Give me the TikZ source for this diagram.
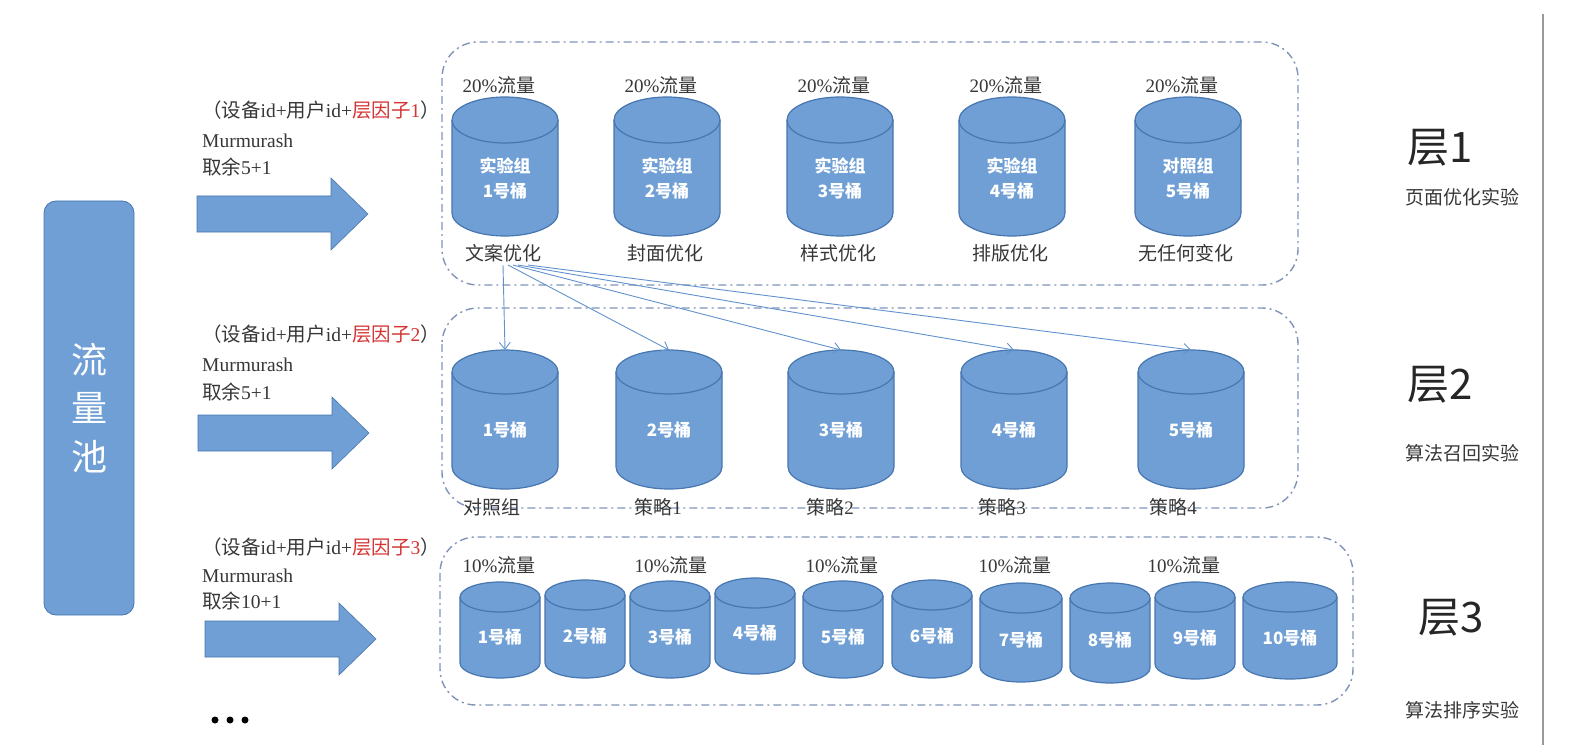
\documentclass[tikz,border=0pt]{standalone}
\usepackage{fontspec}
\setmainfont{Liberation Serif}
\newfontfamily\cjk{Noto Sans CJK SC}
\usetikzlibrary{arrows.meta}

\definecolor{tongblue}{RGB}{111,159,212}
\definecolor{tongedge}{RGB}{72,118,176}
\definecolor{boxline}{RGB}{128,148,186}
\definecolor{fanblue}{RGB}{98,146,206}
\definecolor{yinzi}{RGB}{212,52,52}
\definecolor{txt}{RGB}{55,55,55}

\tikzset{
  tongbody/.style={fill=tongblue, draw=tongedge, line width=1.2pt},
  tongtext/.style={text=white, font=\cjk\bfseries\fontsize{17}{25}\selectfont, align=center, inner sep=0pt},
  layerbox/.style={draw=boxline, line width=1.4pt, rounded corners=36pt, dash pattern=on 8pt off 4pt on 2pt off 4pt},
  liuliang/.style={text=txt, font=\fontsize{19}{22}\selectfont, inner sep=1pt},
  xiaoguo/.style={text=txt, font=\cjk\fontsize{19}{22}\selectfont, inner sep=3pt},
  zuo/.style={anchor=west, inner sep=0pt, text=txt, font=\fontsize{19.5}{22}\selectfont},
  ceng/.style={text=black!85, font=\cjk\fontsize{42}{46}\selectfont},
  shiyan/.style={text=txt, font=\cjk\fontsize{19}{21}\selectfont},
  bigarrow/.style={fill=tongblue, draw=tongedge, line width=0.6pt},
  fan/.style={draw=fanblue, line width=0.9pt, -{Straight Barb[length=7pt,width=11pt]}},
  pool/.style={fill=tongblue, draw=tongedge, line width=0.8pt, rounded corners=12pt,
    minimum width=90pt, minimum height=414pt, text=white, align=center,
    font=\cjk\fontsize{36}{48.5}\selectfont},
}

% bucket: name, cx, top, bottom, rx, ry, text
\newcommand{\tong}[7]{%
  \path[tongbody] ({#2-#5},{-#3-#6}) -- ({#2-#5},{-#4+#6})
    arc[start angle=180, end angle=360, x radius=#5pt, y radius=#6pt]
    -- ({#2+#5},{-#3-#6})
    arc[start angle=0, end angle=180, x radius=#5pt, y radius=#6pt] -- cycle;
  \draw[tongedge, line width=1.2pt] ({#2-#5},{-#3-#6})
    arc[start angle=180, end angle=360, x radius=#5pt, y radius=#6pt];
  \node[tongtext] (#1) at (#2,{-(#3+#6+#4)/2}) {#7};
  \coordinate (#1-top) at (#2,-#3);
}

\begin{document}
\begin{tikzpicture}[x=1pt, y=1pt]
\fill[white] (0,0) rectangle (1576,-754);
\useasboundingbox (0,0) rectangle (1576,-754);

\node[pool] (pool) at (89,-408) {流\\量\\池};

% big arrows and hash labels
\foreach \x/\y in {197/214, 198/433, 205/639}
  \path[bigarrow] (\x,{-\y+18}) -- ({\x+134},{-\y+18}) -- ({\x+134},{-\y+36})
    -- ({\x+171},-\y) -- ({\x+134},{-\y-36}) -- ({\x+134},{-\y-18}) -- (\x,{-\y-18}) -- cycle;

\foreach \n/\ya/\yb/\yc/\yu in {1/110/141/167/5, 2/334/365/392/5, 3/547/576/601/10} {
  \node[zuo] (yz\n) at (202,-\ya) {{\cjk （设备}id+{\cjk 用户}id+\textcolor{yinzi}{{\cjk 层因子}\n}{\cjk ）}};
  \node[zuo] (mm\n) at (202,-\yb) {Murmurash};
  \node[zuo] (qy\n) at (202,-\yc) {{\cjk 取余}\yu+1};
}

\fill (215,-720) circle[radius=3.5pt];
\fill (230,-720) circle[radius=3.5pt];
\fill (245,-720) circle[radius=3.5pt];

% layer boxes
\draw[layerbox] (442,-42) rectangle (1298,-285);
\draw[layerbox] (442,-308) rectangle (1298,-508);
\draw[layerbox] (440,-537) rectangle (1353,-705);

% layer 1
\foreach \i/\cx/\zu/\hao/\xiao in {1/505/实验组/1/文案优化, 2/667/实验组/2/封面优化,
    3/840/实验组/3/样式优化, 4/1012/实验组/4/排版优化, 5/1188/对照组/5/无任何变化} {
  \tong{t1-\i}{\cx}{97}{236}{53}{23}{\zu\\\hao{}号桶}
  \node[liuliang] (p1-\i) at ({\cx-6},-85) {20\%{\cjk 流量}};
  \node[xiaoguo] (x1-\i) at ({\cx-2},-253) {\xiao};
}

% layer 2
\foreach \i/\cx/\lx/\ce in {1/505/492/{\cjk 对照组}, 2/669/658/{{\cjk 策略}1},
    3/841/830/{{\cjk 策略}2}, 4/1014/1002/{{\cjk 策略}3}, 5/1191/1173/{{\cjk 策略}4}} {
  \tong{t2-\i}{\cx}{350}{489}{53}{22}{\i{}号桶}
  \node[xiaoguo, font=\fontsize{19}{22}\selectfont] (x2-\i) at (\lx,-507) {\ce};
}

\foreach \i/\dx in {1/0, 2/5, 3/10, 4/15, 5/25}
  \draw[fan] ([xshift=\dx pt]x1-1.south) -- (t2-\i-top);

% layer 3
\foreach \i/\cx/\rx/\ya/\yb in {1/500/40/582/678, 2/585/40/580/678, 3/670/40/581/678,
    4/755/40/578/674, 5/843/40/581/678, 6/932/40/580/678, 7/1021/41/583/682,
    8/1110/40/583/683, 9/1195/40/582/679, 10/1290/47/582/679}
  \tong{t3-\i}{\cx}{\ya}{\yb}{\rx}{15}{\i{}号桶};

\foreach \i/\x in {1/499, 2/671, 3/842, 4/1015, 5/1184}
  \node[liuliang] (p3-\i) at (\x,-565) {10\%{\cjk 流量}};

% right labels
\node[ceng] (c1) at (1440,-148) {层1};
\node[shiyan] (s1) at (1462,-197) {页面优化实验};
\node[ceng] (c2) at (1440,-385) {层2};
\node[shiyan] (s2) at (1462,-453) {算法召回实验};
\node[ceng] (c3) at (1451,-618) {层3};
\node[shiyan] (s3) at (1462,-710) {算法排序实验};

\draw[black!40, line width=2pt] (1543,-14) -- (1543,-745);
\end{tikzpicture}
\end{document}
